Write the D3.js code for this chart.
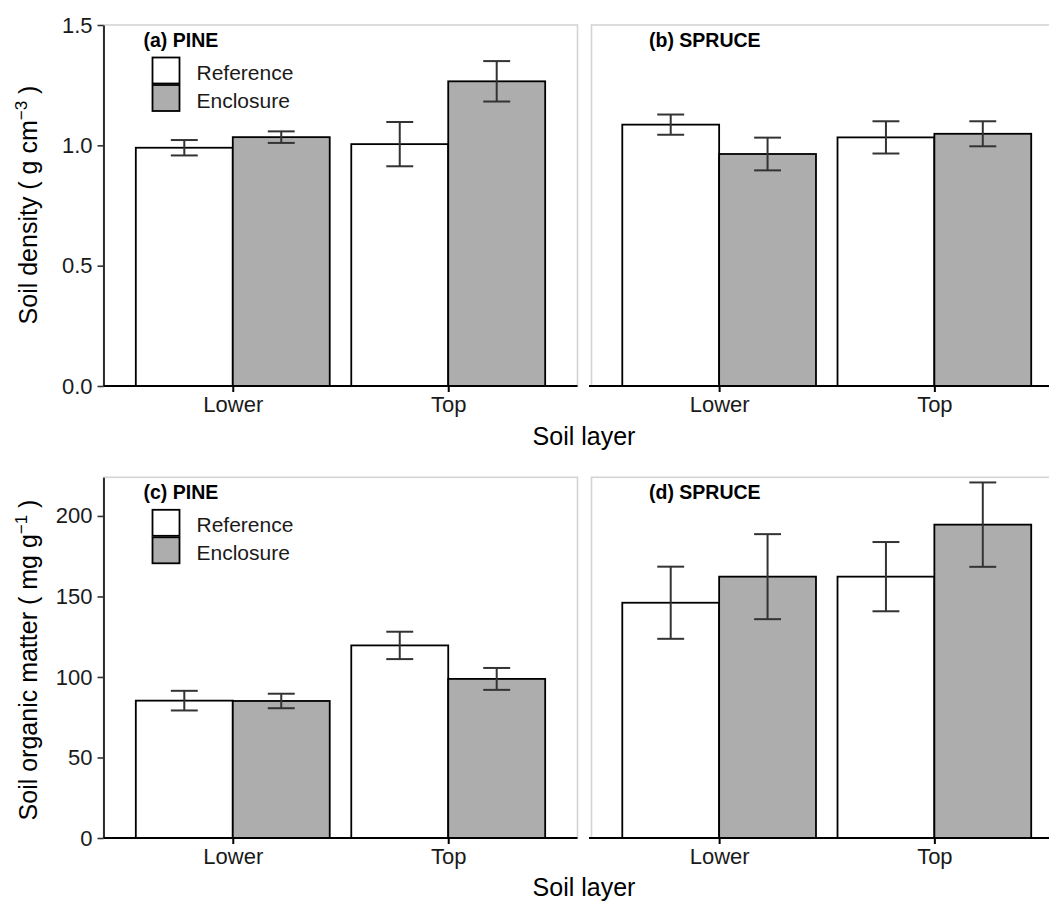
<!DOCTYPE html>
<html>
<head>
<meta charset="utf-8">
<script src="https://cdn.jsdelivr.net/npm/d3@7"></script>
<style>
  body { margin: 0; background: #fff; }
  svg { display: block; font-family: "Liberation Sans", Arial, sans-serif; }
</style>
</head>
<body>
<div id="chart"></div>
<script>
// categories
const layers = ["Lower", "Top"];
const treatments = ["Reference", "Enclosure"];
const fills = ["#ffffff", "#adadad"];

// soil density, g cm-3 ; rows = layer, cols = [Reference, Enclosure]
const pineDensity = [[0.990, 1.034], [1.005, 1.266]];
const pineDensitySE = [[0.032, 0.024], [0.092, 0.084]];
const spruceDensity = [[1.086, 0.964], [1.033, 1.048]];
const spruceDensitySE = [[0.042, 0.068], [0.067, 0.052]];

// soil organic matter, mg g-1
const pineSOM = [[85.3, 85.1], [119.6, 98.8]];
const pineSOMSE = [[6.1, 4.5], [8.5, 6.8]];
const spruceSOM = [[146.1, 162.3], [162.3, 194.6]];
const spruceSOMSE = [[22.4, 26.4], [21.5, 26.2]];

const densityTicks = [0, 0.5, 1.0, 1.5];
const somTicks = [0, 50, 100, 150, 200];

const W = 1049, H = 901;
const svg = d3.select("#chart").append("svg")
  .attr("width", W).attr("height", H);

const cols = [[103.5, 577.5], [590, 1063.5]];
const rows = [
  {y: [25, 386], domain: [0, 1.5], ticks: densityTicks, fmt: d3.format(".1f")},
  {y: [477.3, 838], domain: [0, 224], ticks: somTicks, fmt: d3.format("d")}
];

const panels = [
  {row: 0, col: 0, label: "(a) PINE", vals: pineDensity, se: pineDensitySE, legend: true},
  {row: 0, col: 1, label: "(b) SPRUCE", vals: spruceDensity, se: spruceDensitySE, legend: false},
  {row: 1, col: 0, label: "(c) PINE", vals: pineSOM, se: pineSOMSE, legend: true},
  {row: 1, col: 1, label: "(d) SPRUCE", vals: spruceSOM, se: spruceSOMSE, legend: false}
];

const dodge = d3.scaleBand().domain(treatments).range([-0.45, 0.45]);
const capHalf = 0.0625;

panels.forEach(function(p) {
  const r = rows[p.row], c = cols[p.col];
  const x = d3.scaleLinear().domain([0.4, 2.6]).range(c);
  const y = d3.scaleLinear().domain(r.domain).range([r.y[1], r.y[0]]);
  const g = svg.append("g");

  // panel border
  g.append("rect")
    .attr("x", c[0] + (p.col == 1 ? 1.5 : 0)).attr("y", r.y[0])
    .attr("width", c[1] - c[0]).attr("height", r.y[1] - r.y[0])
    .attr("fill", "none").attr("stroke", "#d4d4d4").attr("stroke-width", 1.6);

  const data = [];
  layers.forEach(function(l, i) {
    treatments.forEach(function(t, j) {
      data.push({i: i, j: j, v: p.vals[i][j], se: p.se[i][j]});
    });
  });

  g.selectAll("rect.bar").data(data).enter().append("rect")
    .attr("class", "bar")
    .attr("x", d => x(d.i + 1 + dodge(treatments[d.j])))
    .attr("width", d => x(d.i + 1 + dodge(treatments[d.j]) + dodge.bandwidth()) - x(d.i + 1 + dodge(treatments[d.j])))
    .attr("y", d => y(d.v))
    .attr("height", d => y(0) - y(d.v))
    .attr("fill", d => fills[d.j])
    .attr("stroke", "#000").attr("stroke-width", 1.8);

  // error bars
  const eb = g.selectAll("g.err").data(data).enter().append("g")
    .attr("class", "err")
    .attr("stroke", "#333").attr("stroke-width", 2);
  const cx = d => d.i + 1 + dodge(treatments[d.j]) + dodge.bandwidth() / 2;
  eb.append("line")
    .attr("x1", d => x(cx(d))).attr("x2", d => x(cx(d)))
    .attr("y1", d => y(d.v - d.se)).attr("y2", d => y(d.v + d.se));
  eb.append("line")
    .attr("x1", d => x(cx(d) - capHalf)).attr("x2", d => x(cx(d) + capHalf))
    .attr("y1", d => y(d.v + d.se)).attr("y2", d => y(d.v + d.se));
  eb.append("line")
    .attr("x1", d => x(cx(d) - capHalf)).attr("x2", d => x(cx(d) + capHalf))
    .attr("y1", d => y(d.v - d.se)).attr("y2", d => y(d.v - d.se));

  // x axis
  const xa = g.append("g")
    .attr("transform", "translate(0," + r.y[1] + ")")
    .call(d3.axisBottom(x).tickValues([1, 2]).tickFormat(d => layers[d - 1])
      .tickSize(6).tickSizeOuter(0).tickPadding(4));
  xa.select(".domain").attr("stroke", "#000").attr("stroke-width", 2.2)
    .attr("d", "M" + (p.col == 1 ? c[0] - 1 : c[0]) + ",0H" + c[1]);
  xa.selectAll(".tick line").attr("stroke", "#000").attr("stroke-width", 2);
  xa.selectAll(".tick text").attr("font-size", 22).attr("fill", "#1a1a1a")
    .attr("font-family", null);

  // y axis only on left column
  if (p.col == 0) {
    const ya = g.append("g")
      .attr("transform", "translate(" + c[0] + ",0)")
      .call(d3.axisLeft(y).tickValues(r.ticks).tickFormat(r.fmt)
        .tickSize(6).tickSizeOuter(0).tickPadding(5));
    ya.select(".domain").attr("stroke", "#000").attr("stroke-width", 1.6);
    ya.selectAll(".tick line").attr("stroke", "#333").attr("stroke-width", 1.6);
    ya.selectAll(".tick text").attr("font-size", 22).attr("fill", "#1a1a1a")
      .attr("font-family", null);
  }

  // panel label
  g.append("text")
    .attr("x", c[0] + (p.col == 0 ? 40 : 59)).attr("y", r.y[0] + 22)
    .attr("font-size", 19.5).attr("font-weight", "bold")
    .text(p.label);

  if (p.legend) {
    const lg = g.selectAll("g.key").data(treatments).enter().append("g")
      .attr("class", "key");
    lg.append("rect")
      .attr("x", c[0] + 49).attr("y", (d, i) => r.y[0] + 32.5 + i * 27.5)
      .attr("width", 27).attr("height", 26)
      .attr("fill", (d, i) => fills[i])
      .attr("stroke", "#000").attr("stroke-width", 1.8);
    lg.append("text")
      .attr("x", c[0] + 93).attr("y", (d, i) => r.y[0] + 55 + i * 28)
      .attr("font-size", 21).attr("fill", "#1a1a1a")
      .text(d => d);
  }
});

// axis titles
const xTitleX = 584;
svg.append("text").attr("x", xTitleX).attr("y", 445)
  .attr("text-anchor", "middle").attr("font-size", 25).text("Soil layer");
svg.append("text").attr("x", xTitleX).attr("y", 896)
  .attr("text-anchor", "middle").attr("font-size", 25).text("Soil layer");

function yTitle(cy, main, sup) {
  const t = svg.append("text")
    .attr("text-anchor", "middle")
    .attr("font-size", 25)
    .attr("transform", "translate(37," + cy + ") rotate(-90)");
  t.append("tspan").text(main);
  t.append("tspan").attr("font-size", 17).attr("dy", -10).text(sup);
  t.append("tspan").attr("dy", 10).text(" )");
}
yTitle(205, "Soil density ( g cm", "\u22123");
yTitle(660, "Soil organic matter ( mg g", "\u22121");
</script>
</body>
</html>
